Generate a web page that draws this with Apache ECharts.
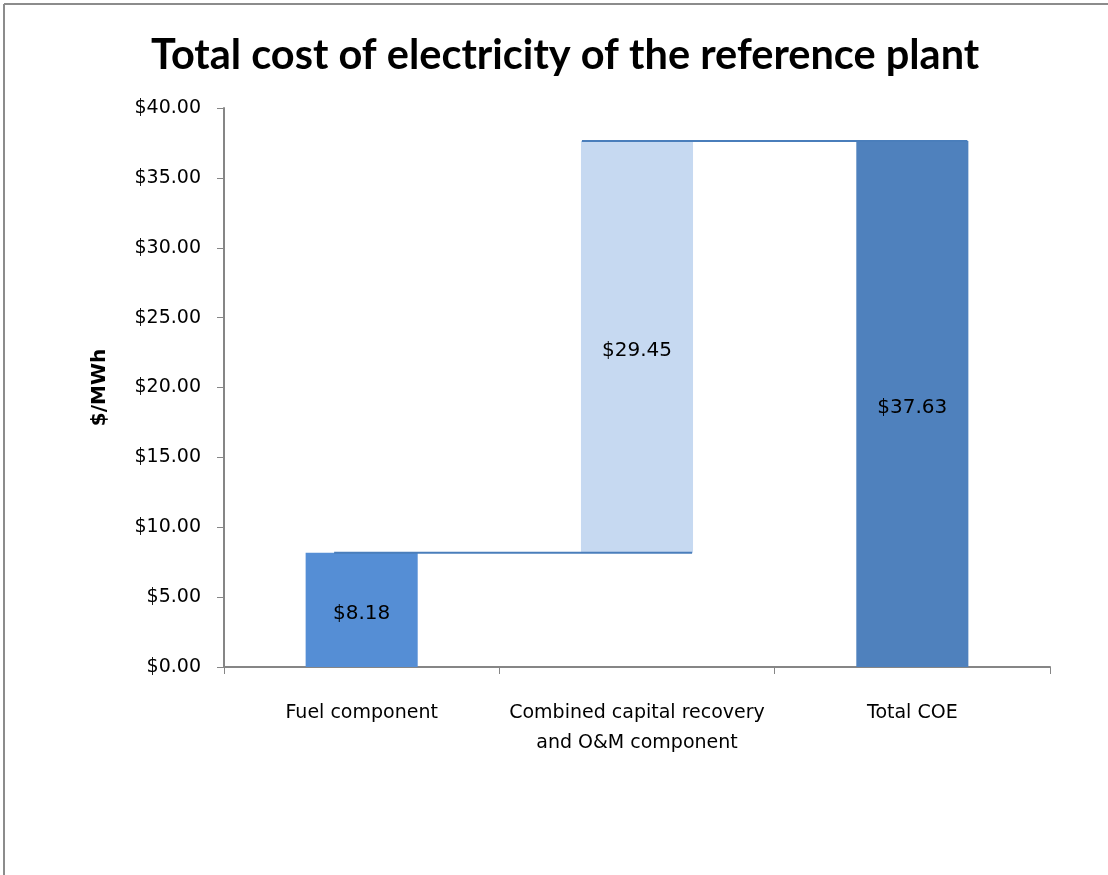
<!DOCTYPE html>
<html>
<head>
<meta charset="utf-8">
<style>
  html, body { margin: 0; padding: 0; background: #fff; }
  #chart { width: 1108px; height: 875px; }
</style>
<script src="https://cdn.jsdelivr.net/npm/echarts@6/dist/echarts.min.js"></script>
</head>
<body>
<div id="chart"></div>
<script>
// Cost components in $/MWh
const categories = ['Fuel component', 'Combined capital recovery\nand O&M component', 'Total COE'];
const componentValues = [8.18, 29.45, 37.63];
// invisible base that lifts each step of the waterfall
const baseValues = [0, 8.18, 0];
const yTicks = [0, 5, 10, 15, 20, 25, 30, 35, 40];
// connector lines: [from category position, to category position, level]
const connectors = [
  [-0.1, 1.2, 8.18],
  [0.8, 2.2, 37.63]
];

const barColors = ['#558ed5', '#c6d9f1', '#4f81bd'];
const TITLE_FONT = 'Lato';
const FONT = 'DejaVu Sans';

const chart = echarts.init(document.getElementById('chart'));

const connectorSeries = connectors.map(c => ({
  type: 'line',
  xAxisIndex: 1,
  yAxisIndex: 0,
  data: [[c[0], c[2]], [c[1], c[2]]],
  symbol: 'none',
  lineStyle: { color: '#4a7ebb', width: 2 },
  silent: true,
  z: 3
}));

chart.setOption({
  backgroundColor: '#ffffff',
  animation: false,
  title: {
    text: 'Total cost of electricity of the reference plant',
    left: 146,
    top: 30,
    textStyle: { fontFamily: TITLE_FONT, fontWeight: 'bold', fontSize: 41.5, color: '#000' }
  },
  graphic: [
    { type: 'line', shape: { x1: 4, y1: 4, x2: 1108, y2: 4 }, style: { stroke: '#8c8c8c', lineWidth: 2 } },
    { type: 'line', shape: { x1: 4, y1: 4, x2: 4, y2: 875 }, style: { stroke: '#8c8c8c', lineWidth: 2 } }
  ],
  grid: { left: 224, top: 108, right: 58, bottom: 208, containLabel: false },
  xAxis: [
    {
      type: 'category',
      data: categories,
      axisLine: { lineStyle: { color: '#868686', width: 2 } },
      axisTick: { show: true, length: 7, lineStyle: { color: '#868686', width: 1 } },
      axisLabel: { fontFamily: FONT, fontSize: 19, color: '#000', margin: 31, lineHeight: 30, interval: 0 }
    },
    {
      type: 'value',
      min: -0.5,
      max: 2.5,
      show: false
    }
  ],
  yAxis: {
    type: 'value',
    min: yTicks[0],
    max: yTicks[yTicks.length - 1],
    interval: yTicks[1] - yTicks[0],
    name: '$/MWh',
    nameLocation: 'middle',
    nameGap: 114,
    nameRotate: 90,
    nameTextStyle: { fontFamily: FONT, fontWeight: 'bold', fontSize: 20, color: '#000' },
    axisLine: { show: true, onZero: false, lineStyle: { color: '#868686', width: 2 } },
    axisTick: { show: true, length: 7, lineStyle: { color: '#868686' } },
    splitLine: { show: false },
    axisLabel: {
      fontFamily: FONT, fontSize: 19, color: '#000', margin: 23,
      formatter: v => '$' + v.toFixed(2)
    }
  },
  series: [
    {
      type: 'bar',
      stack: 'wf',
      data: baseValues,
      itemStyle: { color: 'transparent' },
      silent: true,
      barWidth: '40.7%'
    },
    {
      type: 'bar',
      stack: 'wf',
      barWidth: '40.7%',
      data: componentValues.map((v, i) => ({ value: v, itemStyle: { color: barColors[i] } })),
      label: {
        show: true,
        position: 'inside',
        offset: [0, 4],
        fontFamily: FONT,
        fontSize: 20,
        color: '#000',
        formatter: p => '$' + p.value.toFixed(2)
      },
      z: 2
    },
    ...connectorSeries
  ]
});
</script>
</body>
</html>
